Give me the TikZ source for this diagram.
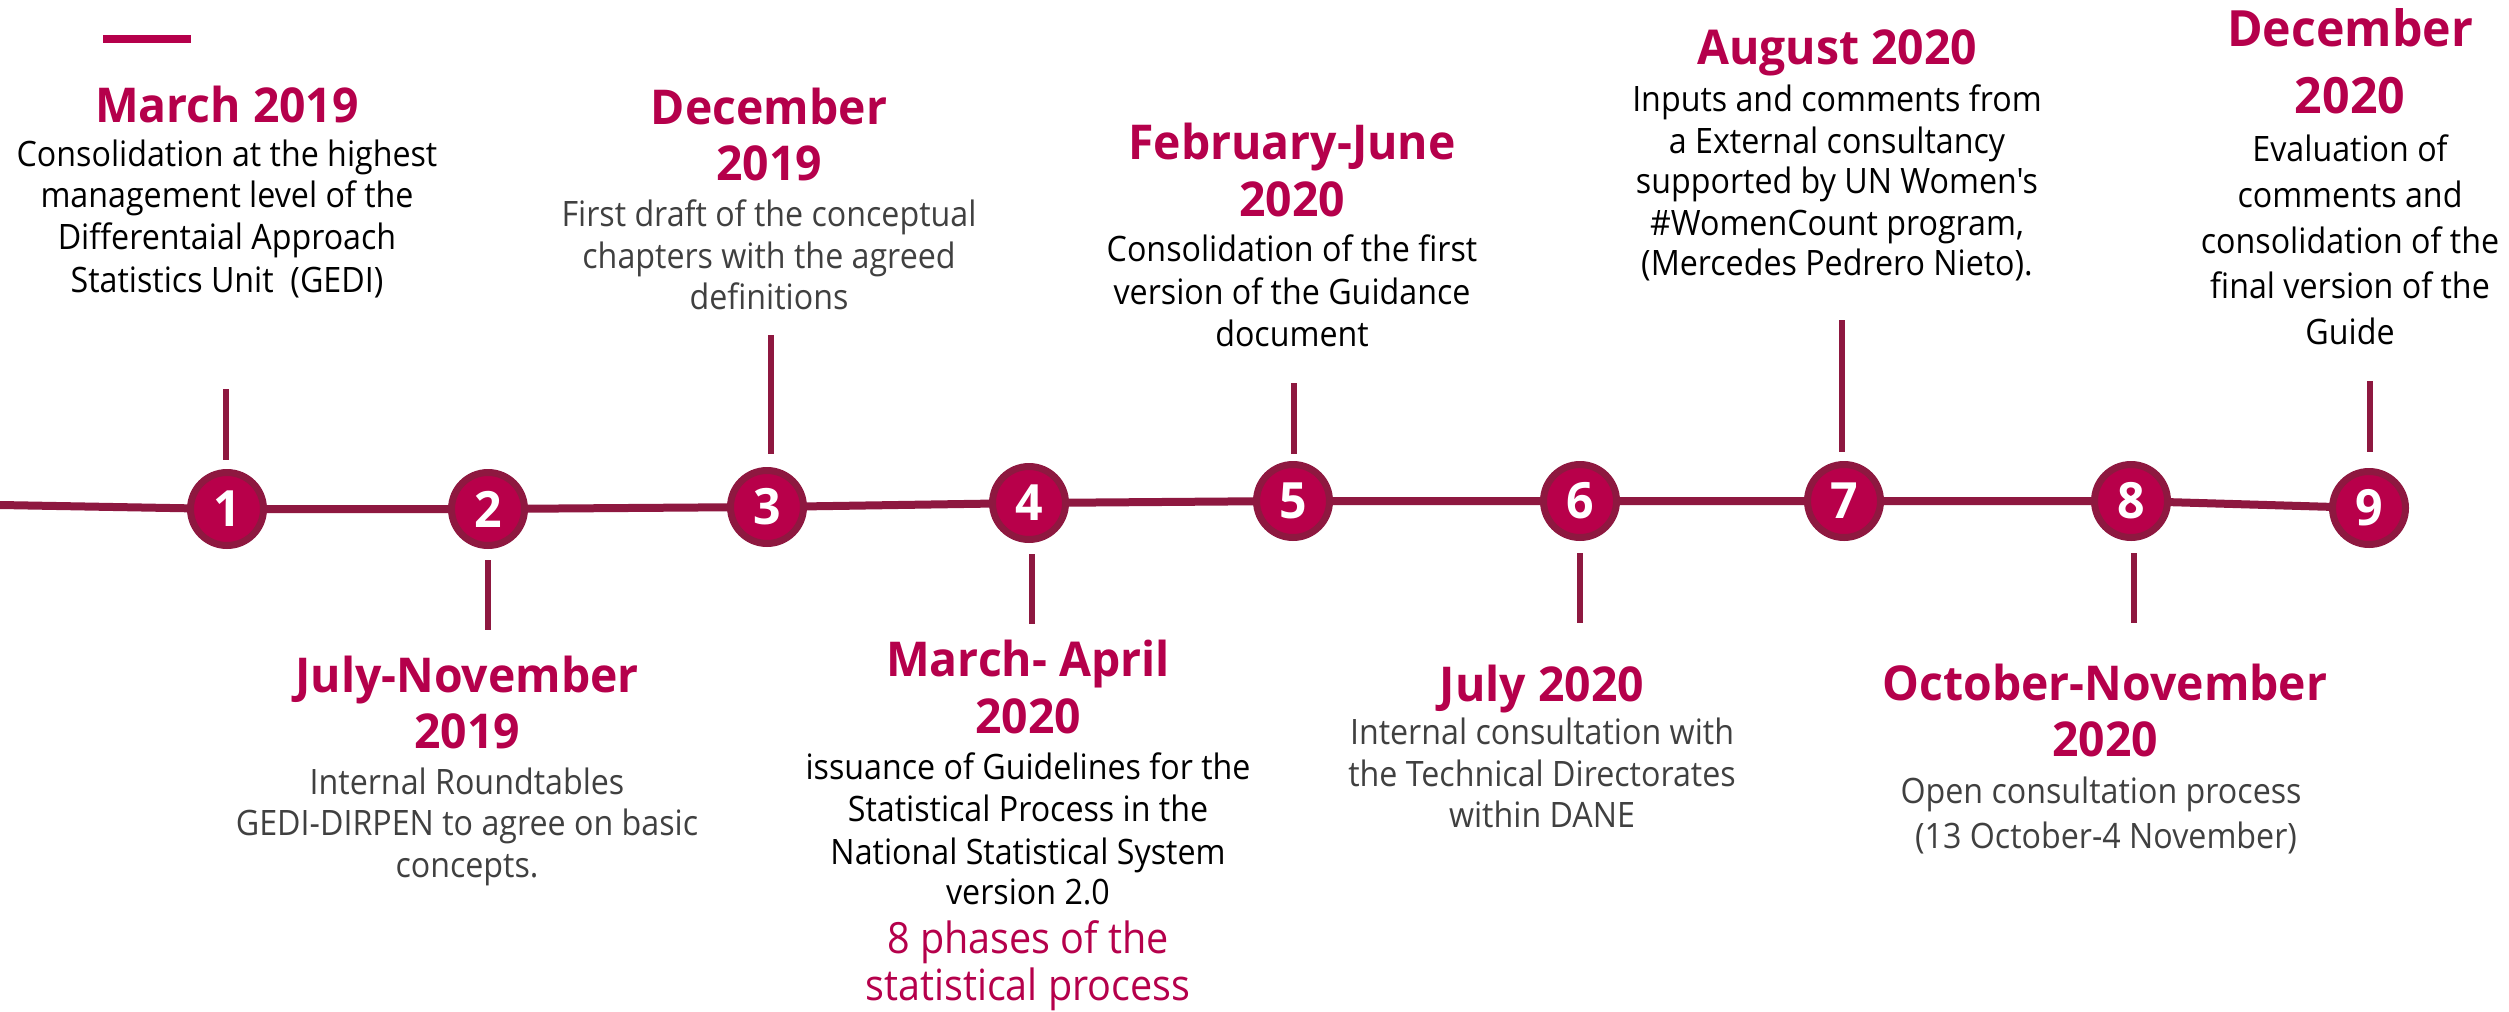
\documentclass[tikz,border=0pt]{standalone}
\usepackage{fontspec}
\newfontfamily\bodyfont{Open Sans}[FakeStretch=0.92]
\newfontfamily\headfont{Open Sans}[FakeStretch=0.965]
\definecolor{crim}{HTML}{B5004B}
\definecolor{dotfill}{HTML}{B8004A}
\definecolor{ring}{HTML}{8E1840}
\definecolor{graytxt}{HTML}{404040}
\tikzset{
  title/.style={font=\headfont\bfseries\fontsize{48}{56}\selectfont, text=crim, inner sep=0pt, anchor=base},
  bigtitle/.style={title, font=\headfont\bfseries\fontsize{50}{60}\selectfont},
  body/.style={font=\bodyfont\fontsize{35}{42}\selectfont, text=black, inner sep=0pt, anchor=base},
  greybody/.style={body, text=graytxt},
  redbody/.style={font=\bodyfont\fontsize{43}{47}\selectfont, text=crim, inner sep=0pt, anchor=base},
  dot/.style={circle, fill=dotfill, draw=ring, line width=7pt, minimum size=73pt, inner sep=0pt,
    font=\headfont\bfseries\fontsize{50}{50}\selectfont, text=white},
  tick/.style={draw=ring, line width=6pt},
  timeline/.style={draw=ring, line width=8pt},
}
\begin{document}
\begin{tikzpicture}[x=1pt,y=-1pt]
\useasboundingbox (0,0) rectangle (2509,1012);
% top-left accent
\coordinate (acc1) at (103,39);
\coordinate (acc2) at (191,39);
\draw[draw=crim, line width=8pt] (acc1) -- (acc2);
% circle centres
\coordinate (p0) at (0,505);
\coordinate (p1) at (227,509);
\coordinate (p2) at (488,509);
\coordinate (p3) at (767,507);
\coordinate (p4) at (1029,503);
\coordinate (p5) at (1293,501);
\coordinate (p6) at (1580,501);
\coordinate (p7) at (1844,501);
\coordinate (p8) at (2131,501);
\coordinate (p9) at (2369,508);
\draw[timeline] (p0) -- (p1) -- (p2) -- (p3) -- (p4) -- (p5) -- (p6) -- (p7) -- (p8) -- (p9);
\node[dot] (c1) at (p1) {1};
\node[dot] (c2) at (p2) {2};
\node[dot] (c3) at (p3) {3};
\node[dot] (c4) at (p4) {4};
\node[dot] (c5) at (p5) {5};
\node[dot] (c6) at (p6) {6};
\node[dot] (c7) at (p7) {7};
\node[dot] (c8) at (p8) {8};
\node[dot] (c9) at (p9) {9};
% ticks
\coordinate (k1a) at (226,389);  \coordinate (k1b) at (226,460);
\coordinate (k2a) at (488,560);  \coordinate (k2b) at (488,630);
\coordinate (k3a) at (771,335);  \coordinate (k3b) at (771,454);
\coordinate (k4a) at (1032,554); \coordinate (k4b) at (1032,624);
\coordinate (k5a) at (1294,383); \coordinate (k5b) at (1294,454);
\coordinate (k6a) at (1580,553); \coordinate (k6b) at (1580,623);
\coordinate (k7a) at (1842,320); \coordinate (k7b) at (1842,452);
\coordinate (k8a) at (2134,553); \coordinate (k8b) at (2134,623);
\coordinate (k9a) at (2370,381); \coordinate (k9b) at (2370,452);
\draw[tick] (k1a) -- (k1b);
\draw[tick] (k2a) -- (k2b);
\draw[tick] (k3a) -- (k3b);
\draw[tick] (k4a) -- (k4b);
\draw[tick] (k5a) -- (k5b);
\draw[tick] (k6a) -- (k6b);
\draw[tick] (k7a) -- (k7b);
\draw[tick] (k8a) -- (k8b);
\draw[tick] (k9a) -- (k9b);
% 1
\node[title] (t1) at (227,122) {March 2019};
\node[body] (d1a) at (227,166) {Consolidation at the highest};
\node[body] (d1b) at (227,207) {management level of the};
\node[body] (d1c) at (227,249) {Differentaial Approach};
\node[body] (d1d) at (227,292) {Statistics Unit\ \ (GEDI)};
% 2
\node[title] (t2a) at (467,692) {July-November};
\node[title] (t2b) at (467,748) {2019};
\node[greybody] (d2a) at (467,794) {Internal Roundtables};
\node[greybody] (d2b) at (467,835) {GEDI-DIRPEN to agree on basic};
\node[greybody] (d2c) at (467,877) {concepts.};
% 3
\node[title] (t3a) at (769,124) {December};
\node[title] (t3b) at (769,180) {2019};
\node[greybody] (d3a) at (769,226) {First draft of the conceptual};
\node[greybody] (d3b) at (769,268) {chapters with the agreed};
\node[greybody] (d3c) at (769,309) {definitions};
% 4
\node[title] (t4a) at (1028,676) {March- April};
\node[title] (t4b) at (1028,733) {2020};
\node[body] (d4a) at (1028,779) {issuance of Guidelines for the};
\node[body] (d4b) at (1028,821) {Statistical Process in the};
\node[body] (d4c) at (1028,864) {National Statistical System};
\node[body] (d4d) at (1028,904) {version 2.0};
\node[redbody] (r4a) at (1028,953) {8 phases of the};
\node[redbody] (r4b) at (1028,1000) {statistical process};
% 5
\node[title] (t5a) at (1292,159) {February-June};
\node[title] (t5b) at (1292,216) {2020};
\node[body] (d5a) at (1292,261) {Consolidation of the first};
\node[body] (d5b) at (1292,304) {version of the Guidance};
\node[body] (d5c) at (1292,346) {document};
% 6
\node[title] (t6) at (1542,701) {July 2020};
\node[greybody] (d6a) at (1542,744) {Internal consultation with};
\node[greybody] (d6b) at (1542,786) {the Technical Directorates};
\node[greybody] (d6c) at (1542,827) {within DANE};
% 7
\node[title] (t7) at (1837,64) {August 2020};
\node[body] (d7a) at (1837,111) {Inputs and comments from};
\node[body] (d7b) at (1837,153) {a External consultancy};
\node[body] (d7c) at (1837,193) {supported by UN Women's};
\node[body] (d7d) at (1837,235) {\#WomenCount program,};
\node[body] (d7e) at (1837,275) {(Mercedes Pedrero Nieto).};
% 8
\node[title] (t8a) at (2105,700) {October-November};
\node[title] (t8b) at (2105,756) {2020};
\node[greybody] (d8a) at (2101,803) {Open consultation process};
\node[greybody] (d8b) at (2106,848) {(13 October-4 November)};
% 9
\node[bigtitle] (t9a) at (2350,46) {December};
\node[bigtitle] (t9b) at (2350,113) {2020};
\node[body] (d9a) at (2350,161) {Evaluation of};
\node[body] (d9b) at (2350,207) {comments and};
\node[body] (d9c) at (2350,253) {consolidation of the};
\node[body] (d9d) at (2350,298) {final version of the};
\node[body] (d9e) at (2350,344) {Guide};
\end{tikzpicture}
\end{document}
